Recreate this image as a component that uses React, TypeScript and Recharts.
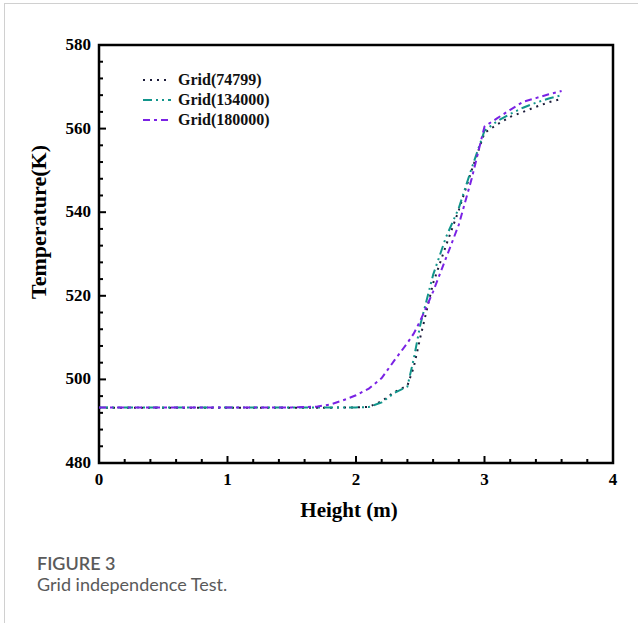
import React from 'react';
import { LineChart, Line, XAxis, YAxis, ReferenceArea } from 'recharts';

const heights = [0, 0.5, 1, 1.5, 1.7, 1.8, 1.9, 2.0, 2.1, 2.2, 2.3, 2.4, 2.45, 2.5, 2.6, 2.7, 2.8, 2.9, 3.0, 3.1, 3.2, 3.3, 3.4, 3.5, 3.6];
const grid74799 = [493.2, 493.2, 493.2, 493.2, 493.2, 493.2, 493.3, 493.3, 493.4, 494.8, 497, 498.5, 503, 510, 523, 532, 540.5, 550, 559, 561, 562.8, 564, 565.2, 566.3, 567.1];
const grid134000 = [493.3, 493.3, 493.3, 493.3, 493.3, 493.3, 493.3, 493.3, 493.4, 494.5, 496.8, 498.3, 505, 513, 525, 534, 541, 550.5, 559.5, 561.8, 563.5, 565, 566.2, 567.2, 568];
const grid180000 = [493.3, 493.3, 493.3, 493.3, 493.5, 494, 495, 496.2, 497.8, 500.3, 504.6, 508.7, 511, 514, 521, 529, 537, 548, 560.5, 562.5, 564.5, 566.4, 567.3, 568.2, 569];

const xTicks = [0, 0.2, 0.4, 0.6, 0.8, 1, 1.2, 1.4, 1.6, 1.8, 2, 2.2, 2.4, 2.6, 2.8, 3, 3.2, 3.4, 3.6, 3.8, 4];
const yTicks = [480, 484, 488, 492, 496, 500, 504, 508, 512, 516, 520, 524, 528, 532, 536, 540, 544, 548, 552, 556, 560, 564, 568, 572, 576, 580];

const seriesInfo = [
  { key: 'g74799', name: 'Grid(74799)', color: '#1c1c3a', dash: '2 5' },
  { key: 'g134000', name: 'Grid(134000)', color: '#12958b', dash: '9 4 2 4 2 4' },
  { key: 'g180000', name: 'Grid(180000)', color: '#7a22e4', dash: '7 4 3 4' },
];

const data = heights.map((h, i) => ({
  h,
  g74799: grid74799[i],
  g134000: grid134000[i],
  g180000: grid180000[i],
}));

const SERIF = '"Liberation Serif", "Times New Roman", serif';

const XTick = (props: any) => {
  const { x, y, payload } = props;
  const v = payload.value;
  const major = Math.abs(v - Math.round(v)) < 1e-6;
  return (
    <g>
      <line x1={x} x2={x} y1={y} y2={y - (major ? 7 : 4)} stroke="#000" strokeWidth={2} />
      {major && (
        <text x={x} y={y + 22} textAnchor="middle" fontFamily={SERIF} fontWeight="bold" fontSize={17} fill="#000">
          {Math.round(v)}
        </text>
      )}
    </g>
  );
};

const YTick = (props: any) => {
  const { x, y, payload } = props;
  const v = payload.value;
  const major = v % 20 === 0;
  return (
    <g>
      <line x1={x} x2={x + (major ? 7 : 4)} y1={y} y2={y} stroke="#000" strokeWidth={2} />
      {major && (
        <text x={x - 8} y={y + 5} textAnchor="end" fontFamily={SERIF} fontWeight="bold" fontSize={17} fill="#000">
          {v}
        </text>
      )}
    </g>
  );
};

const LegendBox = () => (
  <div style={{ position: 'absolute', left: 140, top: 70, fontFamily: SERIF, fontWeight: 'bold', fontSize: 16 }}>
    {seriesInfo.map((s) => (
      <div key={s.key} style={{ height: 20, display: 'flex', alignItems: 'center' }}>
        <svg width={38} height={20} style={{ display: 'block' }}>
          <line x1={3} x2={31} y1={10} y2={10} stroke={s.color} strokeWidth={2.2} strokeDasharray={s.dash} />
        </svg>
        <span style={{ color: '#111', lineHeight: '20px' }}>{s.name}</span>
      </div>
    ))}
  </div>
);

const XLabel = (props: any) => {
  const vb = props.viewBox || { x: 99, y: 463, width: 514 };
  return (
    <text x={vb.x + vb.width / 2 - 7} y={vb.y + 54} textAnchor="middle" fontFamily={SERIF} fontWeight="bold" fontSize={21} fill="#000">
      Height (m)
    </text>
  );
};

const YLabel = (props: any) => {
  const vb = props.viewBox || { x: 0, y: 45, height: 418 };
  const cx = 46;
  const cy = vb.y + vb.height / 2 - 32;
  return (
    <text x={cx} y={cy} transform={`rotate(-90 ${cx} ${cy})`} textAnchor="middle" fontFamily={SERIF} fontWeight="bold" fontSize={22} fill="#000">
      Temperature(K)
    </text>
  );
};

export default function App() {
  return (
    <div style={{ position: 'absolute', left: 0, top: 0, width: 638, height: 623, background: '#fff' }}>
      <div style={{ position: 'absolute', left: 4, top: 3, width: 634, height: 620, borderLeft: '1px solid #d0d0d0', borderTop: '1px solid #d0d0d0' }} />
      <div style={{ position: 'absolute', left: 0, top: 0 }}>
        <LineChart width={638} height={540} data={data} margin={{ top: 45, right: 25, left: 0, bottom: 0 }}>
          <XAxis
            dataKey="h"
            type="number"
            domain={[0, 4]}
            ticks={xTicks}
            interval={0}
            tickSize={0}
            tickMargin={0}
            tickLine={false}
            axisLine={false}
            tick={<XTick />}
            height={77}
            label={<XLabel />}
          />
          <YAxis
            type="number"
            domain={[480, 580]}
            ticks={yTicks}
            interval={0}
            tickSize={0}
            tickMargin={0}
            tickLine={false}
            axisLine={false}
            tick={<YTick />}
            width={99}
            label={<YLabel />}
          />
          <ReferenceArea x1={0} x2={4} y1={480} y2={580} fill="none" stroke="#000" strokeWidth={2.5} ifOverflow="visible" />
          {seriesInfo.map((s) => (
            <Line
              key={s.key}
              dataKey={s.key}
              name={s.name}
              type="linear"
              stroke={s.color}
              strokeWidth={2}
              strokeDasharray={s.dash}
              dot={false}
              isAnimationActive={false}
            />
          ))}
        </LineChart>
      </div>
      <LegendBox />
      <div style={{ position: 'absolute', left: 37, top: 553, fontFamily: 'Lato, "Open Sans", sans-serif', fontWeight: 600, fontSize: 18, color: '#5a5a5a', lineHeight: '20px' }}>
        FIGURE 3
      </div>
      <div style={{ position: 'absolute', left: 37, top: 574, fontFamily: 'Lato, "Open Sans", sans-serif', fontWeight: 400, fontSize: 18, color: '#5a5a5a', lineHeight: '20px' }}>
        Grid independence Test.
      </div>
    </div>
  );
}
